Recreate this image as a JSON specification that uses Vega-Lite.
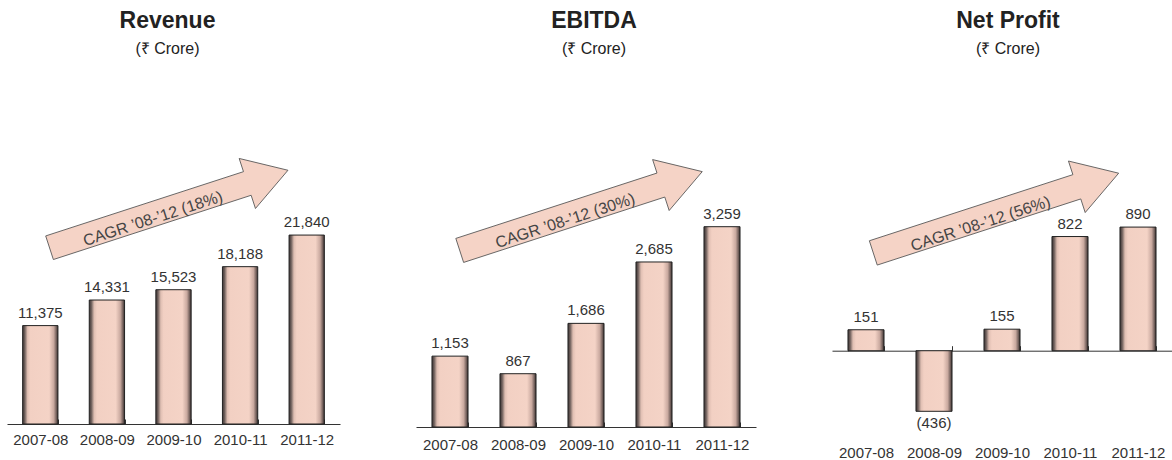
{
  "$schema": "https://vega.github.io/schema/vega-lite/v6.json",
  "padding": {"left": 7, "top": 10, "right": 0, "bottom": 0},
  "autosize": {"type": "pad"},
  "background": "white",
  "spacing": 76,
  "bounds": "flush",
  "config": {
    "view": {"stroke": null},
    "font": "Liberation Sans",
    "title": {
      "font": "Liberation Sans",
      "fontSize": 23,
      "fontWeight": "bold",
      "color": "#222222",
      "subtitleFont": "Liberation Sans",
      "subtitleFontSize": 16,
      "subtitleColor": "#222222",
      "subtitlePadding": 8,
      "anchor": "middle",
      "offset": 22
    },
    "axis": {
      "domainColor": "#333333",
      "domainWidth": 1,
      "tickColor": "#333333",
      "tickSize": -5,
      "tickWidth": 1,
      "tickBand": "extent",
      "labelFont": "Liberation Sans",
      "labelFontSize": 15,
      "labelColor": "#333333",
      "labelAngle": 0,
      "grid": false,
      "title": null
    },
    "text": {"font": "Liberation Sans", "fontSize": 15, "color": "#333333"}
  },
  "hconcat": [
    {
      "width": 333,
      "height": 345,
      "title": {"text": "Revenue", "subtitle": "(₹ Crore)", "dx": -6},
      "data": {"values": [
        {"year": "2007-08", "v": 11375},
        {"year": "2008-09", "v": 14331},
        {"year": "2009-10", "v": 15523},
        {"year": "2010-11", "v": 18188},
        {"year": "2011-12", "v": 21840}
      ]},
      "layer": [
        {
          "mark": {"type": "bar", "stroke": "#222222", "strokeWidth": 1,
            "fill": {"gradient": "linear", "x1": 0, "y1": 0, "x2": 1, "y2": 0, "stops": [
              {"offset": 0, "color": "#3f3535"}, {"offset": 0.06, "color": "#6e5f5b"}, {"offset": 0.14, "color": "#e0bfb3"}, {"offset": 0.22, "color": "#f2d0c3"},
              {"offset": 0.75, "color": "#f4d3c6"}, {"offset": 0.88, "color": "#c9a99f"}, {"offset": 0.96, "color": "#6d5b57"}, {"offset": 1, "color": "#3a302e"}]}},
          "encoding": {
            "x": {"field": "year", "type": "nominal", "scale": {"paddingInner": 0.47, "paddingOuter": 0.235}, "axis": {"labelPadding": 13.3}},
            "y": {"field": "v", "type": "quantitative", "scale": {"domain": [0, 39882], "nice": false, "zero": false}, "axis": null}
          }
        },
        {
          "transform": [{"filter": "datum.v >= 0"}],
          "mark": {"type": "text", "baseline": "alphabetic", "dy": -8},
          "encoding": {
            "x": {"field": "year", "type": "nominal"},
            "y": {"field": "v", "type": "quantitative"},
            "text": {"field": "v", "type": "quantitative", "format": "(,"}
          }
        },
        {
          "data": {"values": [{"year": "2009-10", "v": 24854, "label": "CAGR ’08-’12 (18%)"}]},
          "mark": {"type": "point", "shape": "M -1 -0.099 L 0.659 -0.099 L 0.659 -0.21 L 1 0 L 0.659 0.21 L 0.659 0.099 L -1 0.099 Z", "size": 62850, "angle": -18, "filled": true, "fill": "#f5d3c6", "stroke": "#555555", "strokeWidth": 0.8, "opacity": 1},
          "encoding": {
            "x": {"field": "year", "type": "nominal"},
            "y": {"field": "v", "type": "quantitative"},
            "xOffset": {"value": 12.9}
          }
        },
        {
          "data": {"values": [{"year": "2009-10", "v": 24854, "label": "CAGR ’08-’12 (18%)"}]},
          "mark": {"type": "text", "angle": -18, "dx": -18, "dy": 4.5, "baseline": "middle", "align": "center", "color": "#444444", "fontSize": 16},
          "encoding": {
            "x": {"field": "year", "type": "nominal"},
            "y": {"field": "v", "type": "quantitative"},
            "xOffset": {"value": 12.9},
            "text": {"field": "label"}
          }
        }
      ]
    },
    {
      "width": 340,
      "height": 348,
      "title": {"text": "EBITDA", "subtitle": "(₹ Crore)", "dx": 8},
      "data": {"values": [
        {"year": "2007-08", "v": 1153},
        {"year": "2008-09", "v": 867},
        {"year": "2009-10", "v": 1686},
        {"year": "2010-11", "v": 2685},
        {"year": "2011-12", "v": 3259}
      ]},
      "layer": [
        {
          "mark": {"type": "bar", "stroke": "#222222", "strokeWidth": 1,
            "fill": {"gradient": "linear", "x1": 0, "y1": 0, "x2": 1, "y2": 0, "stops": [
              {"offset": 0, "color": "#3f3535"}, {"offset": 0.06, "color": "#6e5f5b"}, {"offset": 0.14, "color": "#e0bfb3"}, {"offset": 0.22, "color": "#f2d0c3"},
              {"offset": 0.75, "color": "#f4d3c6"}, {"offset": 0.88, "color": "#c9a99f"}, {"offset": 0.96, "color": "#6d5b57"}, {"offset": 1, "color": "#3a302e"}]}},
          "encoding": {
            "x": {"field": "year", "type": "nominal", "scale": {"paddingInner": 0.47, "paddingOuter": 0.235}, "axis": {"labelPadding": 15}},
            "y": {"field": "v", "type": "quantitative", "scale": {"domain": [0, 5662], "nice": false, "zero": false}, "axis": null}
          }
        },
        {
          "transform": [{"filter": "datum.v >= 0"}],
          "mark": {"type": "text", "baseline": "alphabetic", "dy": -8},
          "encoding": {
            "x": {"field": "year", "type": "nominal"},
            "y": {"field": "v", "type": "quantitative"},
            "text": {"field": "v", "type": "quantitative", "format": "(,"}
          }
        },
        {
          "data": {"values": [{"year": "2009-10", "v": 3514, "label": "CAGR ’08-’12 (30%)"}]},
          "mark": {"type": "point", "shape": "M -1 -0.099 L 0.659 -0.099 L 0.659 -0.21 L 1 0 L 0.659 0.21 L 0.659 0.099 L -1 0.099 Z", "size": 65025, "angle": -18, "filled": true, "fill": "#f5d3c6", "stroke": "#555555", "strokeWidth": 0.8, "opacity": 1},
          "encoding": {
            "x": {"field": "year", "type": "nominal"},
            "y": {"field": "v", "type": "quantitative"},
            "xOffset": {"value": 13}
          }
        },
        {
          "data": {"values": [{"year": "2009-10", "v": 3514, "label": "CAGR ’08-’12 (30%)"}]},
          "mark": {"type": "text", "angle": -18, "dx": -18, "dy": 4.5, "baseline": "middle", "align": "center", "color": "#444444", "fontSize": 16},
          "encoding": {
            "x": {"field": "year", "type": "nominal"},
            "y": {"field": "v", "type": "quantitative"},
            "xOffset": {"value": 13},
            "text": {"field": "label"}
          }
        }
      ]
    },
    {
      "width": 340,
      "height": 348,
      "title": {"text": "Net Profit", "subtitle": "(₹ Crore)", "dx": 6},
      "data": {"values": [
        {"year": "2007-08", "v": 151},
        {"year": "2008-09", "v": -436},
        {"year": "2009-10", "v": 155},
        {"year": "2010-11", "v": 822},
        {"year": "2011-12", "v": 890}
      ]},
      "layer": [
        {
          "mark": {"type": "bar", "stroke": "#222222", "strokeWidth": 1,
            "fill": {"gradient": "linear", "x1": 0, "y1": 0, "x2": 1, "y2": 0, "stops": [
              {"offset": 0, "color": "#3f3535"}, {"offset": 0.06, "color": "#6e5f5b"}, {"offset": 0.14, "color": "#e0bfb3"}, {"offset": 0.22, "color": "#f2d0c3"},
              {"offset": 0.75, "color": "#f4d3c6"}, {"offset": 0.88, "color": "#c9a99f"}, {"offset": 0.96, "color": "#6d5b57"}, {"offset": 1, "color": "#3a302e"}]}},
          "encoding": {
            "x": {"field": "year", "type": "nominal", "scale": {"paddingInner": 0.47, "paddingOuter": 0.235}, "axis": {"labelPadding": 99.6, "offset": -76.3}},
            "y": {"field": "v", "type": "quantitative", "scale": {"domain": [-549, 1956], "nice": false, "zero": false}, "axis": null}
          }
        },
        {
          "transform": [{"filter": "datum.v >= 0"}],
          "mark": {"type": "text", "baseline": "alphabetic", "dy": -8},
          "encoding": {
            "x": {"field": "year", "type": "nominal"},
            "y": {"field": "v", "type": "quantitative"},
            "text": {"field": "v", "type": "quantitative", "format": "(,"}
          }
        },
        {
          "transform": [{"filter": "datum.v < 0"}],
          "mark": {"type": "text", "baseline": "alphabetic", "dy": 17},
          "encoding": {
            "x": {"field": "year", "type": "nominal"},
            "y": {"field": "v", "type": "quantitative"},
            "text": {"field": "v", "type": "quantitative", "format": "(,"}
          }
        },
        {
          "data": {"values": [{"year": "2009-10", "v": 991, "label": "CAGR ’08-’12 (56%)"}]},
          "mark": {"type": "point", "shape": "M -1 -0.099 L 0.659 -0.099 L 0.659 -0.21 L 1 0 L 0.659 0.21 L 0.659 0.099 L -1 0.099 Z", "size": 66560, "angle": -18, "filled": true, "fill": "#f5d3c6", "stroke": "#555555", "strokeWidth": 0.8, "opacity": 1},
          "encoding": {
            "x": {"field": "year", "type": "nominal"},
            "y": {"field": "v", "type": "quantitative"},
            "xOffset": {"value": 12}
          }
        },
        {
          "data": {"values": [{"year": "2009-10", "v": 991, "label": "CAGR ’08-’12 (56%)"}]},
          "mark": {"type": "text", "angle": -18, "dx": -18, "dy": 5.5, "baseline": "middle", "align": "center", "color": "#444444", "fontSize": 16},
          "encoding": {
            "x": {"field": "year", "type": "nominal"},
            "y": {"field": "v", "type": "quantitative"},
            "xOffset": {"value": 12},
            "text": {"field": "label"}
          }
        }
      ]
    }
  ]
}
